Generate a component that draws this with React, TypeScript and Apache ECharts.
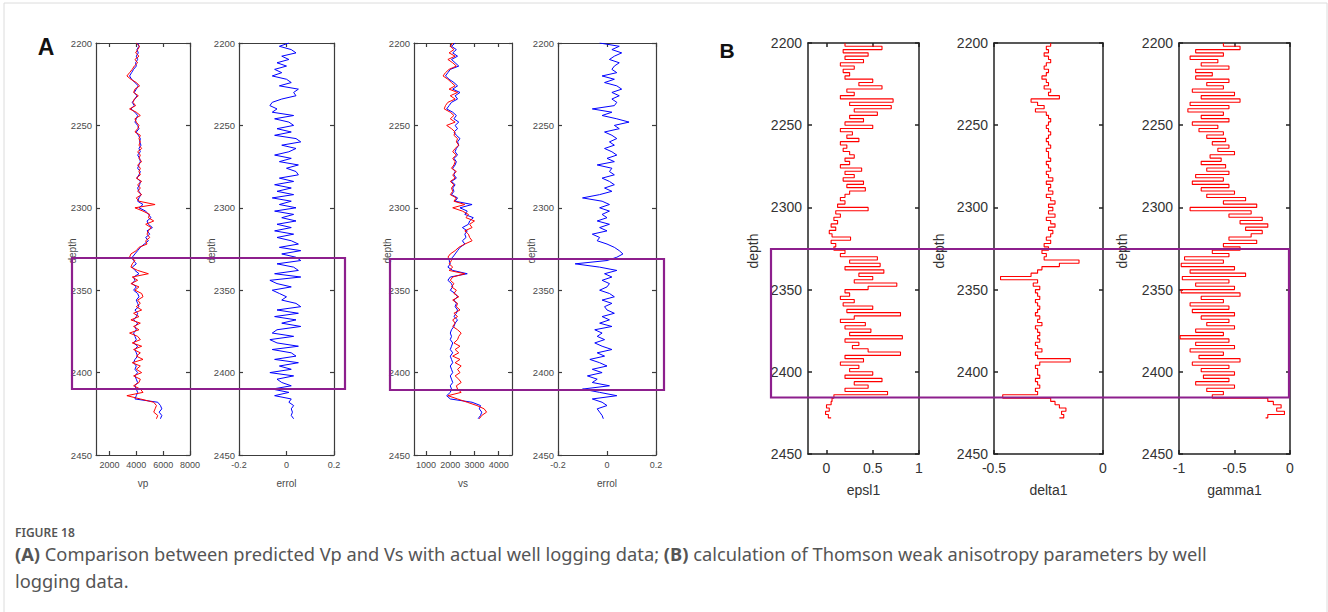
import React, { useEffect, useRef } from "react";
import * as echarts from "echarts";

// depth sampling: 2200 .. 2428 m, every 2 m
const DEPTH_START = 2200;
const DEPTH_STEP = 2;

// ---- Panel A: P-wave velocity (blue = logged, red = predicted)
const VP_REAL = [
  4100, 4200, 4050, 4150, 4000, 4100, 3950, 4000, 3800, 3650,
  3500, 3650, 3900, 4150, 4000, 3850, 4050, 3900, 3700, 3850,
  3600, 3900, 4100, 4000, 3900, 4100, 4200, 4000, 4150, 4300,
  4250, 4350, 4200, 4300, 4100, 4250, 4300, 4200, 4100, 4300,
  4200, 4050, 4300, 4250, 4100, 4200, 4350, 4200, 4100, 4500,
  4200, 4700, 4900, 5100, 4800, 4900, 5200, 4800, 5000, 4700,
  4900, 4600, 4300, 4100, 3900, 3700, 3800, 4000, 3700, 3900,
  4200, 3800, 3900, 3700, 4000, 3800, 4100, 4200, 4000, 4100,
  4200, 3900, 4100, 4000, 3800, 4100, 3900, 4000, 3800, 3900,
  4000, 3800, 4100, 3900, 4000, 4100, 3900, 3800, 4000, 3900,
  4100, 3900, 4000, 4100, 3900, 4000, 4100, 4000, 3900, 5600,
  5800, 5900, 5700, 5900, 5800,
];
const VP_PRED = [
  4000, 4250, 4100, 3950, 4200, 3900, 4100, 3850, 3700, 3500,
  3300, 3600, 4000, 4250, 3900, 3800, 4150, 3850, 3750, 3950,
  3500, 4000, 4300, 3900, 4000, 4200, 4100, 3900, 4300, 4200,
  4300, 4200, 4400, 4100, 4300, 4200, 4400, 4100, 4300, 4200,
  4300, 4000, 4400, 4100, 4300, 4100, 4400, 4000, 4200, 5400,
  3900, 4500, 5000, 4900, 5300, 4700, 5100, 4900, 4800, 5000,
  4700, 4800, 4200, 4000, 3600, 3500, 3900, 3700, 3600, 4100,
  4900, 3700, 4100, 3600, 4200, 3900, 4400, 4500, 4100, 4300,
  4000, 4400, 3800, 4200, 3600, 4300, 3800, 4200, 3500, 4100,
  4300, 3700, 4400, 3800, 4300, 4000, 4500, 3700, 4300, 4000,
  4400, 3800, 4300, 4200, 3800, 4300, 4500, 3300, 4300, 5300,
  5500, 5400, 5300, 5600, 5500,
];
const VP_ERROR = [
  0.01, -0.03, 0.02, 0.04, -0.02, 0.01, -0.04, 0.0, -0.05, -0.02,
  -0.06, 0.0, 0.02, -0.03, 0.05, 0.03, 0.04, -0.02, -0.06, -0.07,
  -0.04, -0.06, 0.03, -0.05, 0.01, 0.03, -0.04, 0.02, -0.05, 0.04,
  0.06, -0.02, 0.04, 0.01, -0.05, 0.02, -0.03, 0.05, 0.0, 0.04,
  0.05, -0.03, 0.03, -0.05, 0.02, -0.04, 0.03, -0.06, 0.02, -0.03,
  0.04, -0.05, 0.03, -0.02, 0.04, -0.04, 0.02, -0.05, 0.03, -0.04,
  0.02, 0.05, -0.03, 0.06, -0.02, 0.04, 0.06, -0.04, 0.03, 0.05,
  -0.05, 0.06, -0.07, -0.04, 0.02, -0.06, -0.03, 0.0, -0.02, 0.04,
  0.06, -0.04, 0.05, -0.05, 0.04, -0.02, 0.06, -0.04, -0.06, 0.03,
  -0.07, -0.04, 0.05, -0.06, 0.02, 0.04, -0.05, 0.05, -0.03, 0.02,
  -0.07, 0.03, -0.04, -0.02, 0.02, -0.06, 0.01, -0.05, 0.02, 0.01,
  0.03, 0.02, 0.025, 0.02, 0.03,
];

// ---- Panel A: S-wave velocity
const VS_REAL = [
  2200, 2050, 2250, 2100, 2300, 2050, 2200, 2350, 2000, 1900,
  1800, 1950, 2150, 2300, 2100, 2400, 2200, 2300, 2050, 1950,
  1850, 2100, 2250, 2150, 2350, 2200, 2300, 2150, 2250, 2400,
  2300, 2350, 2250, 2200, 2300, 2150, 2250, 2200, 2100, 2200,
  2150, 2250, 2050, 2200, 2100, 2150, 2050, 2300, 2200, 2900,
  2400, 2700, 2600, 2950, 2800, 2750, 2500, 2700, 2600, 2650,
  2500, 2600, 2400, 2300, 2200, 2100, 1950, 2000, 1900, 2100,
  2700, 2000, 1900, 2050, 2100, 2000, 2200, 2300, 2150, 2250,
  2200, 2300, 2250, 2150, 2300, 2200, 2150, 2050, 2000, 2050,
  2000, 2100, 2050, 2000, 2100, 2000, 2050, 2100, 2000, 2050,
  2100, 2000, 2050, 2100, 2000, 2050, 2000, 1850, 2000, 2900,
  3250, 3200, 3300, 3250, 3150,
];
const VS_PRED = [
  2100, 2000, 2150, 1950, 2200, 1900, 2100, 2250, 1950, 1800,
  1700, 1900, 2050, 2200, 1950, 2300, 2000, 2200, 1900, 1800,
  1750, 2000, 2150, 2000, 2200, 1850, 2050, 2200, 2150, 2300,
  2250, 2350, 2200, 2100, 2250, 2100, 2200, 2150, 2050, 2250,
  2100, 2200, 2000, 2150, 2050, 2100, 2000, 2250, 2150, 2600,
  2100, 2500, 2750, 2650, 3000, 2800, 2900, 2600, 2750, 2800,
  2900, 2600, 2350, 2200, 2000, 1900, 2050, 1950, 2100, 1950,
  2600, 2100, 2000, 2150, 2050, 2250, 2150, 2350, 2100, 2300,
  2250, 2400, 2150, 2300, 2100, 2200, 2100, 2300, 2450, 2350,
  2300, 2150, 2400, 2200, 2350, 2100, 2400, 2200, 2450, 2300,
  2400, 2200, 2350, 2450, 2250, 2300, 2450, 1900, 2300, 2700,
  3100, 3400, 3500, 3300, 3200,
];
const VS_ERROR = [
  -0.03, 0.05, 0.02, 0.06, 0.03, 0.01, 0.05, 0.03, 0.02, 0.04,
  -0.02, 0.03, -0.01, 0.04, 0.06, 0.02, 0.05, 0.02, 0.04, 0.03,
  -0.06, 0.02, -0.02, 0.04, 0.09, 0.03, 0.05, -0.01, 0.02, 0.04,
  0.01, 0.03, -0.01, 0.02, 0.04, 0.0, 0.03, -0.04, 0.02, 0.01,
  0.03, -0.02, 0.01, 0.03, -0.01, 0.02, -0.03, -0.1, -0.02, 0.01,
  -0.03, 0.01, -0.02, 0.0, -0.04, 0.01, -0.03, 0.0, -0.06, -0.03,
  -0.04, 0.0, 0.03, 0.05, 0.065, 0.04, 0.0, -0.13, -0.03, 0.04,
  -0.01, 0.02, -0.02, 0.01, 0.0, -0.03, 0.01, 0.03, -0.02, 0.02,
  -0.01, 0.0, 0.03, -0.02, 0.01, -0.03, 0.02, -0.05, -0.02, -0.04,
  -0.01, -0.05, -0.02, 0.02, -0.04, -0.01, -0.07, -0.03, 0.0, -0.06,
  -0.02, -0.08, -0.04, -0.06, 0.01, -0.1, -0.03, 0.04, -0.06, -0.02,
  0.0, -0.04, -0.03, -0.02, -0.015,
];

// ---- Panel B: Thomsen parameters
const EPSILON = [
  0.2, 0.6, 0.18, 0.45, 0.2, 0.4, 0.15, 0.3, 0.18, 0.25,
  0.2, 0.5, 0.35, 0.6, 0.22, 0.3, 0.15, 0.72, 0.25, 0.7,
  0.3, 0.55, 0.25, 0.4, 0.2, 0.5, 0.15, 0.28, 0.22, 0.35,
  0.15, 0.22, 0.18, 0.25, 0.3, 0.2, 0.25, 0.15, 0.38, 0.2,
  0.3, 0.18, 0.4, 0.22, 0.42, 0.25, 0.2, 0.15, 0.2, 0.12,
  0.45, 0.1, 0.15, 0.08, 0.12, 0.05, 0.1, 0.03, 0.06, 0.26,
  0.05, 0.1, 0.08, 0.2, 0.15, 0.55, 0.25, 0.58, 0.2, 0.62,
  0.35, 0.5, 0.3, 0.76, 0.45, 0.2, 0.25, 0.15, 0.3, 0.18,
  0.5, 0.22, 0.8, 0.3, 0.15, 0.42, 0.2, 0.48, 0.25, 0.82,
  0.2, 0.35, 0.28, 0.45, 0.8, 0.2, 0.4, 0.15, 0.35, 0.25,
  0.5, 0.2, 0.6, 0.3, 0.45, 0.2, 0.66, 0.08, 0.06, 0.05,
  0.0, 0.03, -0.01, 0.02, 0.05,
];
const DELTA = [
  -0.24, -0.26, -0.25, -0.27, -0.25, -0.24, -0.26, -0.27, -0.25, -0.26,
  -0.28, -0.26, -0.25, -0.27, -0.24, -0.25, -0.2, -0.33, -0.3, -0.27,
  -0.31, -0.26, -0.25, -0.24, -0.25, -0.26, -0.25, -0.24, -0.25, -0.26,
  -0.25, -0.24, -0.26, -0.25, -0.25, -0.24, -0.26, -0.25, -0.24, -0.26,
  -0.25, -0.23, -0.26, -0.24, -0.25, -0.23, -0.26, -0.24, -0.22, -0.25,
  -0.23, -0.25, -0.22, -0.26, -0.24, -0.22, -0.25, -0.23, -0.24, -0.26,
  -0.24, -0.27, -0.25, -0.28, -0.26, -0.27, -0.11, -0.2, -0.28, -0.3,
  -0.33, -0.47, -0.3, -0.32, -0.29, -0.31, -0.3, -0.29, -0.31, -0.3,
  -0.29, -0.3, -0.31, -0.29, -0.3, -0.28, -0.31, -0.3, -0.29, -0.3,
  -0.29, -0.31, -0.3, -0.28, -0.31, -0.3, -0.15, -0.29, -0.31, -0.3,
  -0.3, -0.29, -0.31, -0.3, -0.29, -0.31, -0.3, -0.46, -0.24, -0.22,
  -0.2, -0.17, -0.19, -0.18, -0.2,
];
const GAMMA = [
  -0.6, -0.45, -0.85, -0.6, -0.9, -0.65, -0.8, -0.55, -0.85, -0.7,
  -0.85, -0.55, -0.75, -0.6, -0.88, -0.5, -0.8, -0.45, -0.9, -0.55,
  -0.92, -0.6, -0.8, -0.55, -0.88, -0.65, -0.82, -0.6, -0.75, -0.58,
  -0.7, -0.55, -0.65, -0.5, -0.72, -0.62, -0.8, -0.58, -0.75, -0.55,
  -0.85, -0.6, -0.88, -0.55, -0.8, -0.5, -0.75, -0.4, -0.6, -0.3,
  -0.9, -0.35, -0.55, -0.25, -0.45, -0.2, -0.4, -0.25, -0.35, -0.55,
  -0.3, -0.6, -0.45, -0.7, -0.55, -0.95, -0.6, -0.98, -0.5, -0.9,
  -0.4, -0.97, -0.55, -0.85, -0.5, -0.98, -0.45, -0.8, -0.6, -0.9,
  -0.55, -0.88, -0.5, -0.8, -0.55, -0.75, -0.5, -0.85, -0.6, -0.99,
  -0.55, -0.85, -0.5, -0.9, -0.6, -0.82, -0.45, -0.88, -0.55, -0.8,
  -0.5, -0.78, -0.55, -0.85, -0.5, -0.75, -0.6, -0.7, -0.2, -0.15,
  -0.08, -0.12, -0.05, -0.2, -0.22,
];

const DEPTH_TICKS = [2200, 2250, 2300, 2350, 2400, 2450];
const CAPTION_TITLE = "FIGURE 18";
const CAPTION_A = "(A)";
const CAPTION_A_TEXT = " Comparison between predicted Vp and Vs with actual well logging data; ";
const CAPTION_B = "(B)";
const CAPTION_B_TEXT = " calculation of Thomson weak anisotropy parameters by well";
const CAPTION_LINE2 = "logging data.";

const SMALL = "'Liberation Sans', Arial, sans-serif";
const ARIAL = "'Liberation Sans', Arial, sans-serif";

type Curve = { values: number[]; color: string };
type Panel = {
  group: "A" | "B";
  left: number; width: number;
  min: number; max: number; ticks: number[];
  name: string; depthX: number;
  curves: Curve[]; step?: boolean;
};

const BLUE = "#0000ff";
const RED = "#ff0000";

const PANELS: Panel[] = [
  { group: "A", left: 96, width: 94, min: 1000, max: 8000, ticks: [2000, 4000, 6000, 8000], name: "vp", depthX: 72,
    curves: [{ values: VP_REAL, color: BLUE }, { values: VP_PRED, color: RED }] },
  { group: "A", left: 239, width: 95, min: -0.2, max: 0.2, ticks: [-0.2, 0, 0.2], name: "errol", depthX: 211,
    curves: [{ values: VP_ERROR, color: BLUE }] },
  { group: "A", left: 414, width: 98, min: 500, max: 4550, ticks: [1000, 2000, 3000, 4000], name: "vs", depthX: 387,
    curves: [{ values: VS_REAL, color: BLUE }, { values: VS_PRED, color: RED }] },
  { group: "A", left: 558, width: 98, min: -0.2, max: 0.2, ticks: [-0.2, 0, 0.2], name: "errol", depthX: 531,
    curves: [{ values: VS_ERROR, color: BLUE }] },
  { group: "B", left: 808, width: 111, min: -0.2, max: 1, ticks: [0, 0.5, 1], name: "epsl1", depthX: 753,
    curves: [{ values: EPSILON, color: RED }], step: true },
  { group: "B", left: 994, width: 109, min: -0.5, max: 0, ticks: [-0.5, 0], name: "delta1", depthX: 939,
    curves: [{ values: DELTA, color: RED }], step: true },
  { group: "B", left: 1179, width: 111, min: -1, max: 0, ticks: [-1, -0.5, 0], name: "gamma1", depthX: 1122,
    curves: [{ values: GAMMA, color: RED }], step: true },
];

const plain = (v: number) => String(v);

function buildOption() {
  const grid: any[] = [];
  const xAxis: any[] = [];
  const yAxis: any[] = [];
  const series: any[] = [];
  const graphic: any[] = [];

  PANELS.forEach((p, i) => {
    const isA = p.group === "A";
    const lineColor = isA ? "#3c3c3c" : "#222";
    const lineWidth = isA ? 1.2 : 1.5;
    const lblColor = isA ? "#4a4a4a" : "#333";
    const font = isA ? SMALL : ARIAL;
    const top = 43;
    const height = isA ? 412 : 411;
    grid.push({ left: p.left, top, width: p.width, height, containLabel: false });

    const xBase = {
      gridIndex: i, type: "value", min: p.min, max: p.max,
      splitLine: { show: false },
      axisLine: { show: true, onZero: false, lineStyle: { color: lineColor, width: lineWidth } },
      axisTick: { show: true, inside: true, length: 4, customValues: p.ticks, lineStyle: { color: lineColor, width: lineWidth } },
    };
    xAxis.push({
      ...xBase, position: "bottom",
      axisLabel: { show: true, customValues: p.ticks, formatter: plain, color: lblColor, fontSize: isA ? 9 : 14, fontFamily: font, margin: isA ? 5 : 7, hideOverlap: false },
      name: p.name, nameLocation: "middle", nameGap: isA ? 23 : 29,
      nameTextStyle: { color: lblColor, fontSize: isA ? 10 : 14, fontFamily: font },
    });
    xAxis.push({ ...xBase, position: "top", axisLabel: { show: false } });

    const yBase = {
      gridIndex: i, type: "value", min: 2200, max: 2450, interval: 50, inverse: true,
      splitLine: { show: false },
      axisLine: { show: true, onZero: false, lineStyle: { color: lineColor, width: lineWidth } },
      axisTick: { show: true, inside: true, length: 4, lineStyle: { color: lineColor, width: lineWidth } },
    };
    yAxis.push({
      ...yBase, position: "left",
      axisLabel: { show: true, formatter: plain, color: lblColor, fontSize: isA ? 9.5 : 14, fontFamily: font, margin: isA ? 4 : 6,
        customValues: DEPTH_TICKS, showMinLabel: true, showMaxLabel: true },
    });
    yAxis.push({ ...yBase, position: "right", axisLabel: { show: false } });

    p.curves.forEach((c) => {
      series.push({
        type: "line",
        xAxisIndex: i * 2,
        yAxisIndex: i * 2,
        data: c.values.map((v, k) => [v, DEPTH_START + k * DEPTH_STEP]),
        showSymbol: false,
        symbol: "none",
        step: p.step ? "start" : false,
        lineStyle: { color: c.color, width: isA ? 1 : 1.1 },
        silent: true,
        z: 3,
      });
    });

    graphic.push({
      type: "text", x: p.depthX, y: 251, rotation: Math.PI / 2,
      style: { text: "depth", fill: lblColor, fontSize: isA ? 10 : 14, fontFamily: font, align: "center", verticalAlign: "middle" },
    });
  });

  // outer frame
  graphic.push({ type: "rect", shape: { x: 4, y: 3, width: 1323, height: 640 },
    style: { fill: "none", stroke: "#dcdcdc", lineWidth: 1 }, z: 0 });
  // panel letters
  graphic.push({ type: "text", x: 46, y: 47, style: { text: "A", fontSize: 23, fontWeight: "bold", fill: "#111", fontFamily: ARIAL, align: "center", verticalAlign: "middle" } });
  graphic.push({ type: "text", x: 727, y: 50, style: { text: "B", fontSize: 21, fontWeight: "bold", fill: "#111", fontFamily: ARIAL, align: "center", verticalAlign: "middle" } });
  // highlighted intervals
  const purple = "#8d1f8d";
  graphic.push({ type: "rect", shape: { x: 72, y: 258, width: 273, height: 131 }, style: { fill: "none", stroke: purple, lineWidth: 2.2 }, z: 10 });
  graphic.push({ type: "rect", shape: { x: 390, y: 259, width: 274, height: 131 }, style: { fill: "none", stroke: purple, lineWidth: 2.2 }, z: 10 });
  graphic.push({ type: "rect", shape: { x: 771, y: 249, width: 518, height: 148.5 }, style: { fill: "none", stroke: purple, lineWidth: 2.2 }, z: 10 });
  // caption
  const capFont = "'Noto Sans', 'Open Sans', sans-serif";
  const capSize = 18.3;
  graphic.push({ type: "text", x: 15, y: 532, style: { text: CAPTION_TITLE, fontSize: 12, fontWeight: 600, fill: "#555", fontFamily: capFont, verticalAlign: "middle" } });
  graphic.push({
    type: "text", x: 15, y: 540,
    style: {
      text: `{b|${CAPTION_A}}{n|${CAPTION_A_TEXT}}{b|${CAPTION_B}}{n|${CAPTION_B_TEXT}}\n{n|${CAPTION_LINE2}}`,
      verticalAlign: "top", fontSize: capSize, fontFamily: capFont, fill: "#555", lineHeight: 27,
      rich: {
        n: { fontSize: capSize, fontFamily: capFont, fill: "#555", lineHeight: 27 },
        b: { fontSize: capSize, fontFamily: capFont, fill: "#555", fontWeight: "bold", lineHeight: 27 },
      },
    },
  });

  return { animation: false, backgroundColor: "#fff", grid, xAxis, yAxis, series, graphic };
}

export default function App() {
  const ref = useRef<HTMLDivElement>(null);
  useEffect(() => {
    if (!ref.current) return;
    const chart = echarts.init(ref.current, undefined, { renderer: "svg" });
    chart.setOption(buildOption() as any);
    return () => chart.dispose();
  }, []);
  return <div ref={ref} style={{ position: "absolute", left: 0, top: 0, width: 1328, height: 612 }} />;
}
